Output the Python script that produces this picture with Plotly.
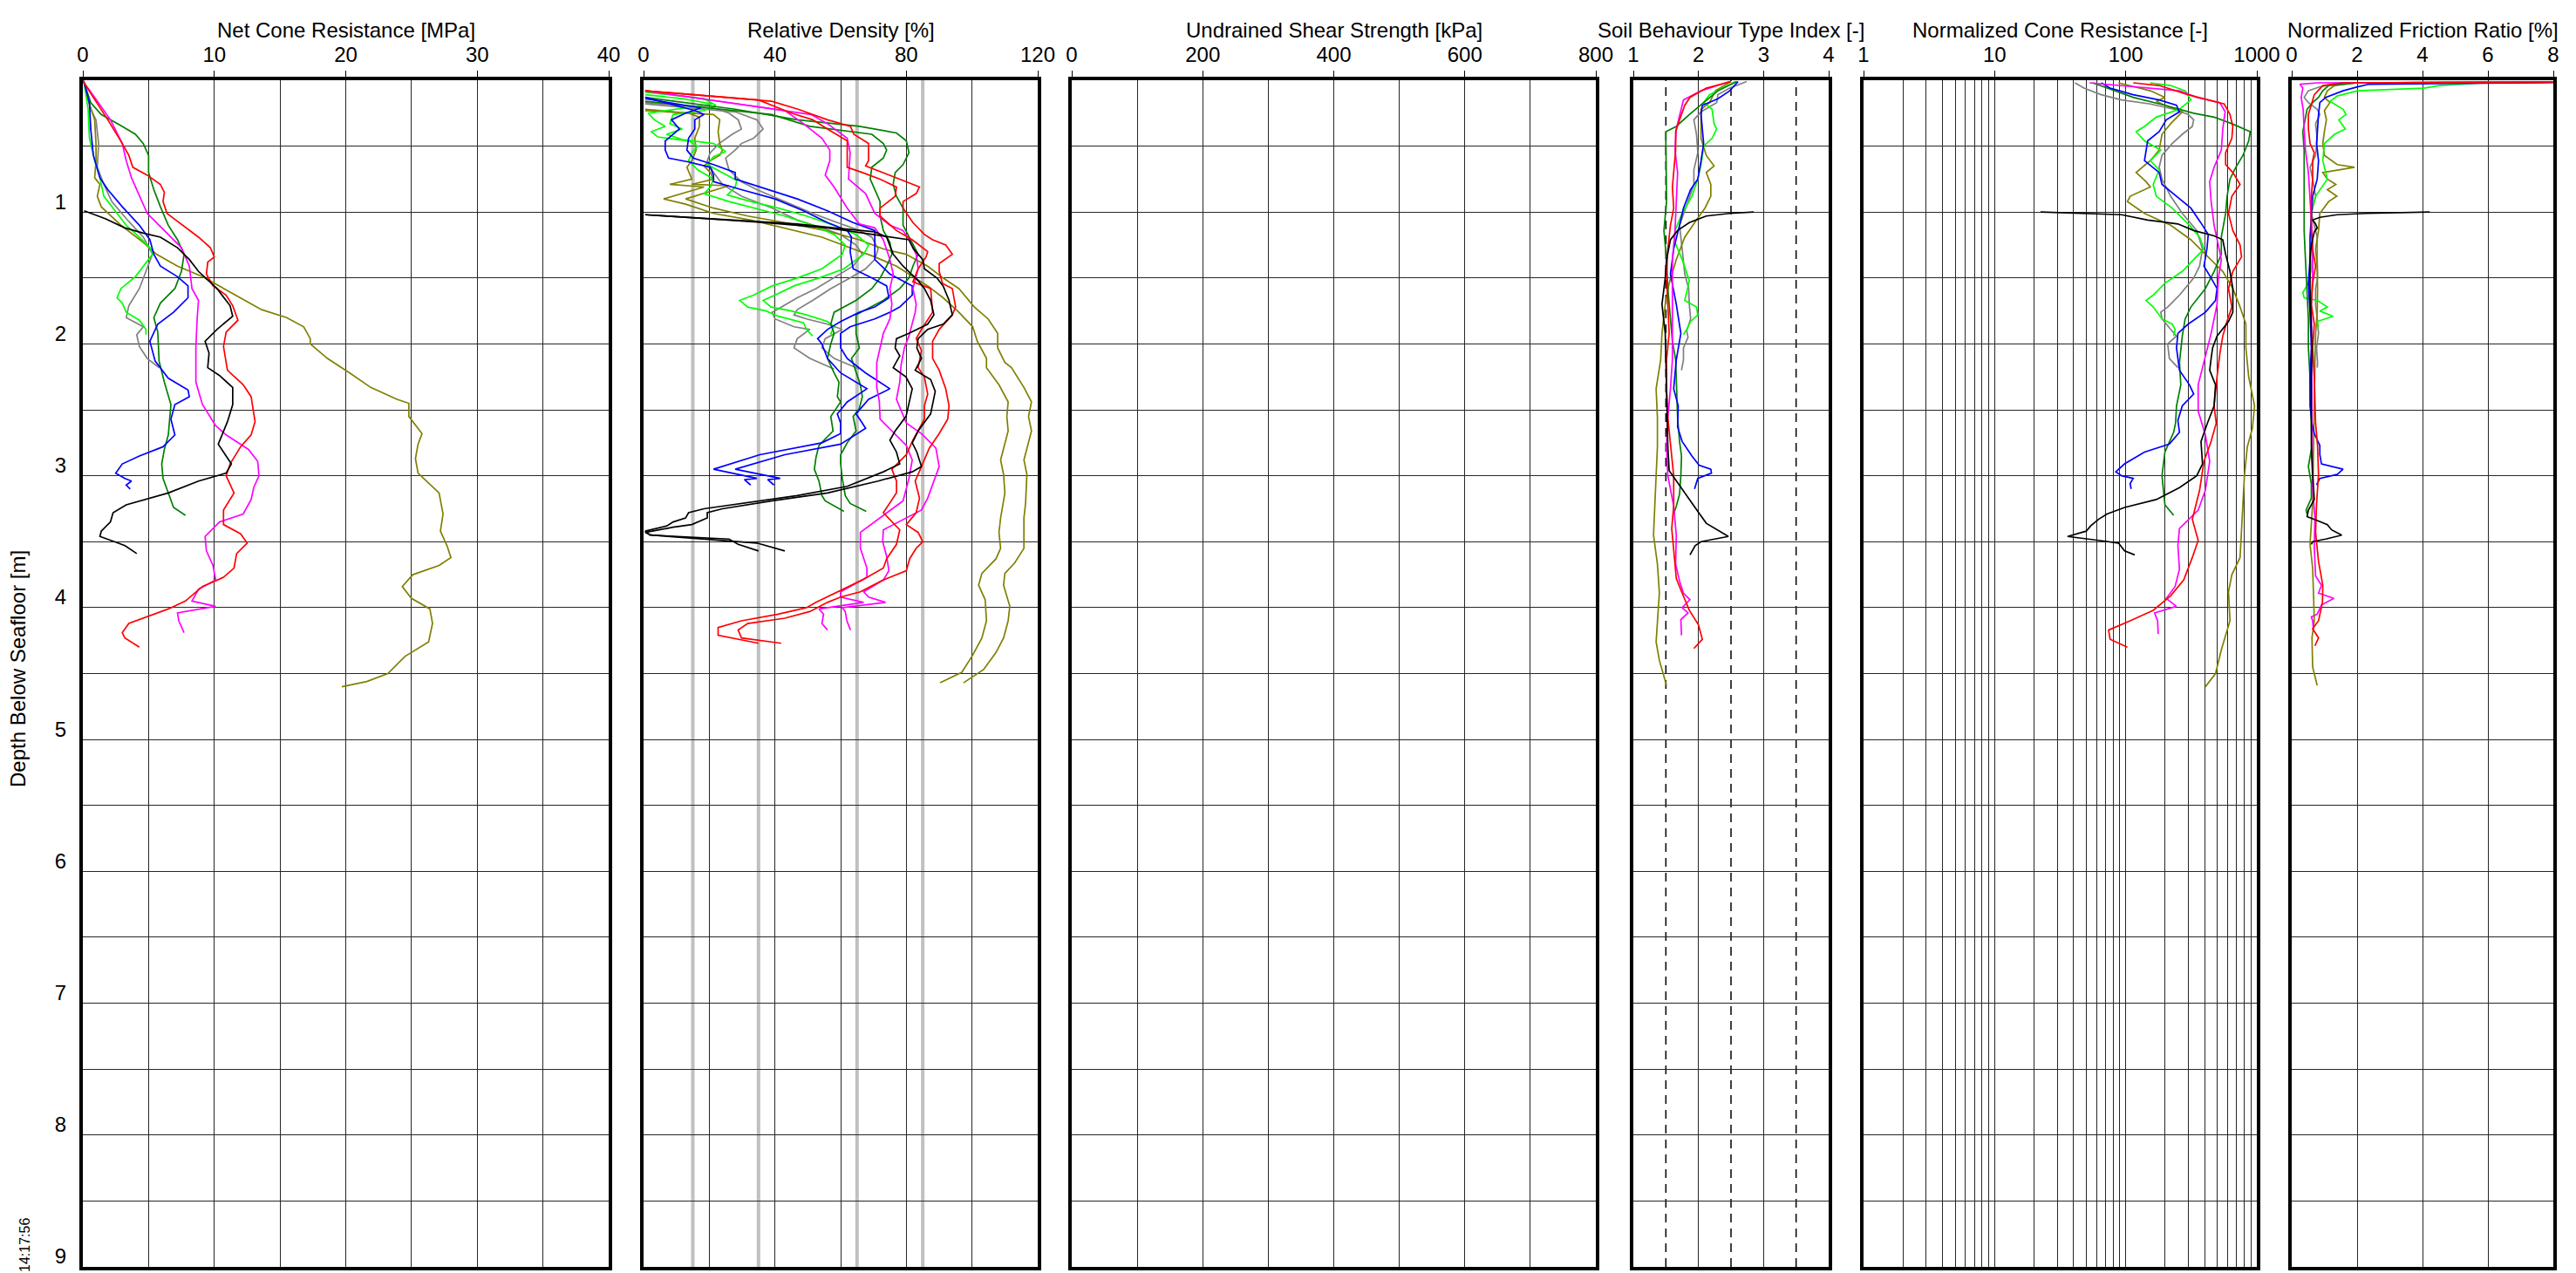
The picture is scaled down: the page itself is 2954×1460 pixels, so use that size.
import plotly.graph_objects as go

# ------------------------------------------------------------------ data
# each series: [depth (m), value]
titles = ["Net Cone Resistance [MPa]", "Relative Density [%]", "Undrained Shear Strength [kPa]",
          "Soil Behaviour Type Index [-]", "Normalized Cone Resistance [-]", "Normalized Friction Ratio [%]"]
depth_ticks = [1, 2, 3, 4, 5, 6, 7, 8, 9]
depth_range = [9, 0]
qnet_ticks = [0, 10, 20, 30, 40]
dr_ticks = [0, 40, 80, 120]
su_ticks = [0, 200, 400, 600, 800]
ic_ticks = [1, 2, 3, 4]
qtn_ticks = [1, 10, 100, 1000]
fr_ticks = [0, 2, 4, 6, 8]
dr_class_lines = [15, 35, 65, 85]
ic_zone_lines = [1.5, 2.5, 3.5]
timestamp = "14:17:56"

qnet_red = [[0,0],[0.02,0.1],[0.1,0.6],[0.3,1.9],[0.48,3.0],[0.57,3.5],[0.66,3.8],[0.72,4.9],[0.79,5.9],[0.85,6.2],[0.92,6.1],[1.01,6.4],[1.07,7.2],[1.19,8.8],[1.27,9.7],[1.34,10.0],[1.38,9.5],[1.47,9.4],[1.56,9.9],[1.63,10.9],[1.71,11.4],[1.82,11.8],[1.91,10.9],[2.02,10.7],[2.20,11.0],[2.31,12.2],[2.40,12.8],[2.51,13.0],[2.59,13.1],[2.69,12.8],[2.78,12.0],[2.91,11.2],[3.0,10.9],[3.13,11.5],[3.26,10.7],[3.37,10.7],[3.44,12.0],[3.51,12.5],[3.59,11.7],[3.70,11.5],[3.77,10.7],[3.84,9.1],[3.95,7.8],[4.01,6.5],[4.12,3.5],[4.19,3.0],[4.23,3.2],[4.30,4.3]]
qnet_magenta = [[0,0],[0.02,0.1],[0.13,0.9],[0.30,2.1],[0.48,3.0],[0.61,3.3],[0.74,3.7],[0.88,4.3],[1.01,4.9],[1.14,6.2],[1.27,7.5],[1.41,8.1],[1.58,8.3],[1.67,8.8],[1.80,8.7],[2.02,8.6],[2.29,8.6],[2.46,9.1],[2.62,10.1],[2.69,10.9],[2.80,12.6],[2.89,13.3],[3.0,13.4],[3.09,13.0],[3.18,12.8],[3.29,12.2],[3.35,10.4],[3.46,9.3],[3.57,9.4],[3.68,9.9],[3.79,10.1],[3.86,8.8],[3.95,8.3],[3.99,10.1],[4.04,7.2],[4.10,7.3],[4.19,7.7]]
qnet_blue = [[0,0],[0.02,0.1],[0.17,0.5],[0.37,0.6],[0.57,0.8],[0.74,1.3],[0.83,1.9],[0.96,3.0],[1.10,4.3],[1.21,5.1],[1.32,5.4],[1.41,5.9],[1.49,7.2],[1.56,8.0],[1.65,8.0],[1.76,6.9],[1.85,5.7],[1.98,5.1],[2.13,5.5],[2.26,6.5],[2.35,8.0],[2.40,8.1],[2.46,7.0],[2.57,6.7],[2.69,7.0],[2.78,6.1],[2.85,4.3],[2.91,3.0],[2.98,2.5],[3.02,3.2],[3.04,3.7],[3.07,3.3],[3.10,3.6]]
qnet_lime = [[0,0],[0.02,0.1],[0.22,0.4],[0.44,0.5],[0.61,0.9],[0.74,1.3],[0.88,1.6],[0.96,2.2],[1.10,3.3],[1.19,4.3],[1.27,5.1],[1.32,5.3],[1.41,4.6],[1.49,4.0],[1.58,2.9],[1.65,2.6],[1.69,3.0],[1.76,3.3],[1.82,4.3],[1.89,4.8],[1.93,4.8]]
qnet_dkgreen = [[0,0],[0.02,0.1],[0.17,0.6],[0.26,1.4],[0.35,3.0],[0.41,4.0],[0.48,4.6],[0.57,5.0],[0.70,5.0],[0.83,5.4],[0.96,5.9],[1.10,6.5],[1.21,7.2],[1.32,7.7],[1.45,7.5],[1.58,7.0],[1.69,5.9],[1.80,5.4],[1.91,5.7],[2.13,5.8],[2.29,6.2],[2.46,6.7],[2.69,6.5],[2.80,6.2],[2.91,6.0],[3.02,6.1],[3.13,6.5],[3.24,6.9],[3.30,7.8]]
qnet_grey = [[0,0],[0.02,0.1],[0.22,0.6],[0.30,1.0],[0.48,1.2],[0.66,1.1],[0.79,1.6],[0.92,2.2],[1.05,3.3],[1.19,4.6],[1.32,5.3],[1.45,4.8],[1.58,4.3],[1.71,3.5],[1.80,3.3],[1.87,4.6],[1.93,4.1],[2.02,4.3],[2.11,4.9],[2.18,5.8]]
qnet_black = [[0.99,0.1],[1.05,1.7],[1.12,3.2],[1.16,4.6],[1.19,5.9],[1.27,7.2],[1.36,8.1],[1.45,8.8],[1.58,10.2],[1.71,11.2],[1.79,11.4],[1.89,10.2],[1.98,9.3],[2.07,9.6],[2.18,9.5],[2.24,10.4],[2.33,11.4],[2.46,11.4],[2.59,11.0],[2.69,10.6],[2.76,10.3],[2.85,10.9],[2.91,11.3],[2.98,10.9],[3.04,8.8],[3.13,6.5],[3.22,3.3],[3.28,2.3],[3.35,2.1],[3.42,1.4],[3.46,1.3],[3.50,2.4],[3.53,3.2],[3.59,4.1]]
qnet_olive = [[0,0],[0.02,0.1],[0.15,0.4],[0.30,0.9],[0.48,1.0],[0.61,1.0],[0.74,0.9],[0.79,1.3],[0.88,1.1],[0.96,1.4],[1.10,2.9],[1.23,4.6],[1.32,5.6],[1.41,7.2],[1.49,9.1],[1.58,10.7],[1.65,12.0],[1.74,13.6],[1.80,15.5],[1.87,16.8],[1.96,17.3],[2.00,17.3],[2.11,18.6],[2.22,20.3],[2.33,21.9],[2.42,23.9],[2.45,24.8],[2.55,24.8],[2.68,25.8],[2.76,25.5],[2.87,25.3],[2.98,25.5],[3.13,27.1],[3.29,27.4],[3.42,27.2],[3.53,27.7],[3.62,28.0],[3.68,27.1],[3.75,25.1],[3.84,24.3],[3.93,25.0],[4.01,26.4],[4.12,26.6],[4.26,26.3],[4.37,24.5],[4.50,23.2],[4.56,21.6],[4.60,19.7]]

dr_red_a = [[0.08,0.5],[0.15,35],[0.25,45],[0.30,51.5],[0.37,56],[0.46,62],[0.57,62],[0.66,62],[0.70,66.6],[0.75,72],[0.81,77],[0.88,76.6],[0.97,72],[1.03,72],[1.14,77],[1.21,81.8],[1.30,86.5],[1.34,86],[1.43,83.6],[1.53,82],[1.58,87.4],[1.76,88],[1.89,84.6],[1.96,83],[2.05,84.6],[2.18,83.6],[2.25,85.5],[2.38,86.5],[2.47,85.5],[2.57,85.5],[2.73,82],[2.84,80],[2.95,75.6],[3.04,77],[3.13,77],[3.28,73],[3.41,78],[3.52,77],[3.63,74],[3.70,73],[3.79,66.6],[3.88,59],[3.96,52.5],[4.00,49.6],[4.05,41],[4.10,29.8],[4.15,22.7],[4.21,22.7],[4.27,35]]
dr_red_b = [[0.08,0.5],[0.16,39],[0.22,47],[0.30,56],[0.35,63],[0.41,64],[0.48,68.5],[0.61,68.5],[0.65,67.6],[0.70,73],[0.76,79],[0.81,84],[0.86,83],[0.92,79],[0.97,79],[1.08,82],[1.17,85.5],[1.21,88],[1.25,92],[1.32,94],[1.39,90],[1.45,90],[1.54,91],[1.58,94],[1.72,95],[1.78,94],[1.89,90],[1.98,88],[2.11,88],[2.20,90],[2.34,92],[2.47,93],[2.57,92.6],[2.68,90],[2.79,87],[2.93,84.6],[3.04,82.7],[3.17,84],[3.28,83],[3.37,80],[3.43,83.6],[3.50,85],[3.55,83],[3.63,81],[3.72,80],[3.79,73],[3.88,66],[3.92,60],[3.96,56],[4.03,50.6],[4.08,43],[4.12,31.7],[4.17,28.8],[4.23,29.8],[4.27,41.9]]
dr_magenta_a = [[0.08,0.5],[0.23,43],[0.33,48.7],[0.44,54.3],[0.53,56.7],[0.61,56.7],[0.72,55.3],[0.81,58],[0.97,62],[1.09,65.7],[1.12,70.4],[1.21,73],[1.36,75],[1.47,76],[1.58,75],[1.70,75.6],[1.81,75],[1.92,73],[2.03,72],[2.14,71],[2.25,71],[2.33,71],[2.44,71.8],[2.57,72],[2.66,75.6],[2.77,80],[2.88,81.8],[3.02,80.8],[3.19,79],[3.30,73],[3.43,66],[3.55,66],[3.70,68],[3.77,68],[3.88,60],[3.92,60],[3.96,67],[4.01,53.4],[4.05,54.8],[4.12,54.3],[4.17,56]]
dr_magenta_b = [[0.08,0.5],[0.26,51],[0.33,56],[0.44,62],[0.55,62.9],[0.75,62.4],[0.86,67.6],[1.01,70.4],[1.10,75],[1.14,79],[1.21,80.8],[1.32,83],[1.43,83.6],[1.58,82],[1.70,83],[1.76,82.7],[1.94,80.8],[2.03,79.4],[2.16,78.4],[2.29,78],[2.42,77],[2.60,80],[2.68,84.6],[2.79,89],[2.93,90],[3.04,88.4],[3.17,86.5],[3.26,84.6],[3.32,80],[3.41,73],[3.50,72.8],[3.61,74],[3.72,74.7],[3.79,73],[3.88,67],[3.92,68.5],[3.96,73.7],[4.00,60.5],[4.03,61.4],[4.10,61.9],[4.17,63]]
dr_blue_a = [[0.14,0.5],[0.21,17.5],[0.25,12.8],[0.30,8.5],[0.37,10.9],[0.46,6.6],[0.53,6.6],[0.59,7.6],[0.62,13.7],[0.66,20.3],[0.72,21.3],[0.77,21.3],[0.83,29.8],[0.90,40],[0.99,48.7],[1.08,56],[1.14,62],[1.19,63.3],[1.30,62.9],[1.43,63.8],[1.50,69.5],[1.56,74],[1.65,74.7],[1.72,70.4],[1.76,65.7],[1.83,60],[1.89,56],[1.96,53],[2.00,54.3],[2.11,56],[2.22,60],[2.34,68],[2.44,62],[2.53,59],[2.60,60],[2.68,60],[2.75,54.3],[2.84,35.4],[2.95,21.3],[3.02,34.5],[3.03,30.7],[3.07,32.6]]
dr_blue_b = [[0.13,0.5],[0.23,15.6],[0.26,18.4],[0.30,15.6],[0.37,15.6],[0.44,13.7],[0.53,13.2],[0.59,15.1],[0.64,21.3],[0.70,27.9],[0.75,27.9],[0.81,35.4],[0.90,46.8],[0.99,56],[1.08,63.8],[1.14,70.4],[1.36,70.4],[1.47,75],[1.56,81.8],[1.63,81.8],[1.72,78],[1.76,75],[1.81,70.4],[1.87,62.9],[1.92,60],[2.03,60],[2.11,62],[2.22,67.6],[2.34,75],[2.42,68.5],[2.53,64.7],[2.60,66.6],[2.64,67.6],[2.76,60],[2.84,43],[2.95,27.9],[3.02,41.6],[3.03,37.8],[3.07,39.7]]
dr_lime_a = [[0.11,0.5],[0.14,11.8],[0.18,21],[0.21,12.8],[0.25,1.4],[0.30,3.3],[0.35,6.6],[0.39,2.4],[0.43,4.3],[0.46,13.7],[0.50,16.5],[0.55,14.7],[0.61,13.7],[0.68,16.5],[0.75,21.3],[0.81,20.3],[0.86,18.4],[0.92,26],[0.97,33.5],[1.03,43],[1.10,51.5],[1.17,58],[1.25,61.4],[1.32,60.5],[1.43,54.3],[1.50,46.8],[1.56,39.2],[1.63,33.5],[1.67,29.3],[1.72,31.7],[1.75,37.3],[1.79,41],[1.84,48.7],[1.89,49.6],[1.94,51.5]]
dr_lime_b = [[0.09,0.5],[0.14,18.4],[0.19,22],[0.23,18.4],[0.26,9],[0.33,8],[0.37,11.8],[0.41,7],[0.45,11.8],[0.48,21.3],[0.54,25],[0.58,21.3],[0.64,19.4],[0.70,24],[0.76,28.4],[0.81,27.9],[0.87,25.5],[0.92,32.6],[0.97,41],[1.03,49.6],[1.10,58],[1.17,64.7],[1.25,68.5],[1.32,67],[1.43,61],[1.50,53.4],[1.56,45.8],[1.63,40],[1.67,36.4],[1.72,38.8],[1.75,44.9],[1.78,49.6],[1.83,56],[1.87,58],[1.92,57],[1.94,58]]
dr_dkgreen_a = [[0.16,0.5],[0.26,39],[0.35,50.6],[0.39,63.8],[0.41,69.5],[0.48,73],[0.53,74],[0.59,73],[0.66,69.5],[0.75,69],[0.83,70.4],[0.92,72],[1.03,72],[1.14,73],[1.23,75],[1.32,75.6],[1.41,74],[1.50,72],[1.58,69.5],[1.67,64.7],[1.76,58],[1.85,57],[1.92,58],[2.00,57],[2.11,56],[2.22,58],[2.29,59.5],[2.40,59],[2.44,60],[2.55,57],[2.66,57.7],[2.77,53.4],[2.86,52.5],[2.95,52],[3.04,53.4],[3.15,54.3],[3.19,55.3],[3.27,61]]
dr_dkgreen_b = [[0.13,0.5],[0.22,27.9],[0.30,46.8],[0.35,65.7],[0.40,77],[0.46,80],[0.55,80.8],[0.64,79],[0.70,76.6],[0.79,76],[0.88,77],[0.97,79],[1.10,79],[1.19,80.8],[1.28,82.7],[1.32,83.6],[1.41,82],[1.50,80.8],[1.58,78],[1.67,73],[1.74,67.6],[1.78,64.7],[1.92,64.7],[2.03,65.7],[2.11,63.3],[2.22,64.7],[2.31,66],[2.40,66.6],[2.49,65.7],[2.55,63.8],[2.66,64.7],[2.75,62],[2.84,60],[2.91,60],[3.02,60.5],[3.15,61.4],[3.21,62.9],[3.27,67.8]]
dr_grey_a = [[0.17,0.5],[0.21,21.3],[0.25,26],[0.30,28.8],[0.37,29.8],[0.41,27],[0.48,23],[0.55,20.3],[0.61,19.4],[0.70,21.3],[0.79,24],[0.88,29.8],[0.97,39.2],[1.06,46.8],[1.12,54.3],[1.17,60],[1.25,64.7],[1.32,66.6],[1.41,63.8],[1.50,58],[1.58,52.5],[1.65,46.8],[1.72,42],[1.76,39.2],[1.81,40],[1.87,45.8],[1.89,50.6],[1.96,46.8],[2.03,45.8],[2.11,50.6],[2.19,58]]
dr_grey_b = [[0.18,0.5],[0.24,27.9],[0.30,34.5],[0.37,36.4],[0.44,33.5],[0.48,29.8],[0.53,27.9],[0.59,25],[0.68,26],[0.77,29.8],[0.83,34.5],[0.92,43],[1.01,51.5],[1.08,59],[1.14,65.7],[1.19,69.5],[1.28,71.4],[1.36,70.4],[1.43,67.6],[1.50,62.9],[1.58,57],[1.67,51.5],[1.74,46.8],[1.78,45.8],[1.81,49.6],[1.85,56],[1.89,60.5],[1.96,55.3],[2.03,54.3],[2.11,58],[2.19,65.7]]
dr_black_a = [[1.02,0.5],[1.06,27.9],[1.09,46.8],[1.12,58],[1.15,70.4],[1.19,74],[1.25,75],[1.32,76],[1.41,79],[1.52,83.6],[1.58,85.5],[1.67,87.4],[1.78,88.4],[1.85,86.5],[1.92,80.8],[1.96,77],[2.03,76.6],[2.09,78],[2.18,76],[2.25,79.9],[2.34,81.8],[2.55,79.9],[2.66,76.6],[2.73,75],[2.82,77],[2.91,78],[2.97,73],[3.08,62],[3.15,46.8],[3.20,32.6],[3.25,18.4],[3.28,13.7],[3.32,12.8],[3.35,9],[3.38,7.1],[3.42,0.5],[3.45,1.9],[3.48,26],[3.52,28.8],[3.57,35]]
dr_black_b = [[1.02,0.5],[1.08,37.3],[1.12,56],[1.18,73],[1.21,80.8],[1.28,82.2],[1.36,85],[1.43,85.5],[1.50,89.3],[1.56,91.2],[1.67,93],[1.78,94],[1.85,91.2],[1.89,86.5],[1.96,83.6],[2.03,83.2],[2.11,84.6],[2.20,82.7],[2.27,87.4],[2.36,88.8],[2.53,87.4],[2.66,83.6],[2.75,81.8],[2.82,83.2],[2.93,84.6],[2.97,81.8],[3.04,71.4],[3.13,56],[3.19,39.2],[3.25,24],[3.28,19.4],[3.32,19.4],[3.37,14.7],[3.39,9],[3.43,0.5],[3.45,2.4],[3.51,34.5],[3.57,43]]
dr_olive_a = [[0.22,0.5],[0.25,13.7],[0.28,17],[0.35,17],[0.44,15.6],[0.53,16],[0.61,14.7],[0.66,13.2],[0.75,14.7],[0.79,8],[0.81,18.4],[0.86,11.8],[0.90,6.1],[0.94,12.8],[1.01,21.3],[1.06,32.6],[1.12,43],[1.19,54.3],[1.28,63.8],[1.34,70.4],[1.41,77],[1.50,82.7],[1.56,86.5],[1.65,91.2],[1.76,96],[1.87,100.2],[1.98,101.6],[2.11,104.4],[2.18,104.4],[2.31,108.2],[2.44,111],[2.55,110.6],[2.66,111],[2.88,108.7],[2.99,109.6],[3.13,110],[3.32,108.7],[3.43,108.2],[3.55,108.7],[3.63,107.3],[3.74,103],[3.83,102],[3.94,104],[4.10,104.4],[4.23,103],[4.36,100.2],[4.49,96.9],[4.57,90.3]]
dr_olive_b = [[0.23,0.5],[0.26,21.3],[0.30,23.2],[0.39,22.7],[0.48,23.2],[0.53,24],[0.57,23.2],[0.61,20.3],[0.65,18.4],[0.70,20.3],[0.75,21.3],[0.79,14.7],[0.80,26],[0.86,18.4],[0.90,12.8],[0.97,21.3],[1.03,31.7],[1.08,43],[1.14,55.3],[1.21,65.7],[1.28,73],[1.32,79.9],[1.41,86.5],[1.50,91.2],[1.58,96],[1.72,100.7],[1.81,104.9],[1.92,107.8],[2.03,107.8],[2.14,110],[2.18,112],[2.33,115.8],[2.44,118.1],[2.55,117.2],[2.66,118.1],[2.88,115.8],[2.99,116.7],[3.21,116.3],[3.32,115.8],[3.55,115.8],[3.66,113],[3.74,110],[3.83,109.6],[3.99,111.5],[4.10,111],[4.23,109.6],[4.34,107.3],[4.47,103.5],[4.57,97.4]]

ic_red = [[0.01,2.50],[0.06,2.12],[0.13,1.87],[0.19,1.79],[0.30,1.71],[0.39,1.65],[0.53,1.65],[0.68,1.62],[0.81,1.60],[0.97,1.62],[1.10,1.57],[1.28,1.53],[1.47,1.51],[1.70,1.53],[1.92,1.55],[2.12,1.51],[2.34,1.51],[2.56,1.53],[2.78,1.57],[3.00,1.62],[3.23,1.62],[3.40,1.59],[3.56,1.62],[3.78,1.66],[3.89,1.75],[4.02,1.86],[4.13,2.00],[4.24,2.06],[4.31,1.93]]
ic_magenta = [[0.01,2.48],[0.08,2.04],[0.15,1.77],[0.26,1.71],[0.37,1.66],[0.53,1.64],[0.70,1.68],[0.92,1.66],[1.14,1.64],[1.36,1.60],[1.58,1.60],[1.81,1.60],[1.98,1.60],[2.12,1.60],[2.34,1.57],[2.56,1.53],[2.78,1.51],[3.00,1.53],[3.23,1.62],[3.45,1.66],[3.67,1.65],[3.80,1.71],[3.89,1.77],[3.94,1.87],[4.00,1.75],[4.04,1.84],[4.09,1.73],[4.21,1.74]]
ic_blue = [[0.01,2.61],[0.08,2.48],[0.14,2.30],[0.19,2.06],[0.26,2.04],[0.39,2.06],[0.48,2.08],[0.61,2.04],[0.75,1.99],[0.83,1.88],[0.97,1.77],[1.10,1.71],[1.28,1.62],[1.47,1.57],[1.70,1.66],[1.92,1.73],[2.12,1.66],[2.34,1.62],[2.47,1.69],[2.63,1.68],[2.74,1.75],[2.85,1.90],[2.92,2.01],[2.95,2.19],[2.98,2.20],[3.02,1.99],[3.05,1.97],[3.10,1.94]]
ic_lime = [[0.01,2.57],[0.11,2.17],[0.17,2.08],[0.22,2.21],[0.33,2.24],[0.37,2.28],[0.44,2.21],[0.50,2.08],[0.64,2.04],[0.75,1.99],[0.88,1.90],[1.01,1.75],[1.14,1.64],[1.23,1.64],[1.36,1.75],[1.52,1.86],[1.67,1.79],[1.72,1.97],[1.78,1.99],[1.83,1.88],[1.89,1.82],[1.93,1.77]]
ic_dkgreen = [[0.01,2.59],[0.08,2.30],[0.17,2.08],[0.26,1.86],[0.35,1.66],[0.39,1.50],[0.48,1.50],[0.70,1.51],[0.92,1.51],[1.14,1.47],[1.36,1.51],[1.58,1.53],[1.81,1.57],[1.98,1.60],[2.12,1.65],[2.34,1.66],[2.56,1.68],[2.74,1.71],[2.85,1.74],[3.00,1.73],[3.14,1.71],[3.23,1.66],[3.29,1.62]]
ic_grey = [[0.01,2.74],[0.06,2.48],[0.11,2.30],[0.17,2.28],[0.24,2.04],[0.30,1.93],[0.41,1.97],[0.55,1.99],[0.68,1.93],[0.79,1.93],[0.92,1.84],[1.10,1.71],[1.28,1.75],[1.47,1.79],[1.58,1.85],[1.70,1.86],[1.81,1.88],[1.90,1.82],[1.95,1.84],[2.03,1.77],[2.12,1.77],[2.20,1.74]]
ic_black = [[1.00,2.85],[1.01,2.48],[1.03,2.12],[1.08,1.86],[1.14,1.68],[1.21,1.57],[1.36,1.51],[1.50,1.49],[1.70,1.44],[1.92,1.49],[2.12,1.50],[2.34,1.51],[2.56,1.53],[2.78,1.53],[2.96,1.55],[3.09,1.73],[3.18,1.86],[3.27,1.99],[3.36,2.12],[3.40,2.26],[3.46,2.46],[3.50,2.04],[3.53,1.95],[3.60,1.87]]
ic_olive = [[0.01,2.50],[0.08,2.26],[0.17,2.17],[0.22,2.04],[0.30,2.04],[0.44,2.04],[0.57,2.12],[0.65,2.24],[0.70,2.12],[0.79,2.19],[0.88,2.19],[0.97,2.10],[1.06,1.97],[1.19,1.79],[1.36,1.66],[1.54,1.55],[1.70,1.49],[1.92,1.44],[2.12,1.42],[2.34,1.35],[2.56,1.37],[2.78,1.37],[3.00,1.35],[3.23,1.33],[3.45,1.31],[3.67,1.37],[3.89,1.40],[4.11,1.37],[4.26,1.35],[4.40,1.40],[4.59,1.51]]

qtn_red = [[0.02,114],[0.04,180],[0.11,299],[0.16,472],[0.18,564],[0.26,624],[0.35,656],[0.44,645],[0.55,578],[0.64,578],[0.70,656],[0.79,745],[0.88,645],[1.01,608],[1.14,656],[1.25,745],[1.34,764],[1.45,656],[1.58,608],[1.72,645],[1.83,592],[1.94,550],[2.07,523],[2.25,497],[2.47,472],[2.60,490],[2.74,448],[2.89,395],[3.11,366],[3.33,322],[3.49,357],[3.62,322],[3.79,277],[3.91,220],[4.02,162],[4.10,108],[4.17,74],[4.24,76],[4.30,103]]
qtn_magenta = [[0.02,53],[0.04,93],[0.08,257],[0.13,348],[0.17,523],[0.24,573],[0.37,550],[0.53,536],[0.66,472],[0.77,437],[0.92,448],[1.10,472],[1.25,509],[1.36,536],[1.50,509],[1.70,497],[1.92,448],[2.14,395],[2.31,357],[2.51,357],[2.69,405],[2.89,437],[3.11,405],[3.26,357],[3.40,257],[3.53,250],[3.71,257],[3.84,238],[3.93,204],[3.99,243],[4.04,166],[4.10,175],[4.20,177]]
qtn_blue = [[0.02,65],[0.06,76],[0.11,114],[0.15,180],[0.19,244],[0.24,257],[0.30,204],[0.39,180],[0.46,147],[0.53,143],[0.61,139],[0.70,180],[0.79,189],[0.88,244],[0.97,314],[1.10,385],[1.17,426],[1.28,416],[1.41,395],[1.50,448],[1.58,497],[1.67,484],[1.76,405],[1.85,299],[1.92,250],[2.03,244],[2.20,257],[2.31,306],[2.38,330],[2.47,270],[2.58,250],[2.67,257],[2.76,215],[2.82,139],[2.91,98],[2.97,84],[3.00,93],[3.02,114],[3.06,108],[3.10,110]]
qtn_lime = [[0.02,154],[0.04,220],[0.08,284],[0.15,314],[0.22,257],[0.28,171],[0.35,139],[0.39,120],[0.46,139],[0.53,185],[0.61,154],[0.68,180],[0.79,162],[0.88,171],[0.97,226],[1.10,306],[1.19,366],[1.28,395],[1.36,330],[1.45,270],[1.54,199],[1.63,162],[1.67,143],[1.72,162],[1.81,189],[1.85,226],[1.89,238],[1.94,232]]
qtn_dkgreen = [[0.02,56],[0.06,72],[0.13,114],[0.19,199],[0.25,330],[0.28,472],[0.33,645],[0.39,890],[0.46,867],[0.57,784],[0.66,691],[0.75,624],[0.88,593],[1.01,578],[1.19,536],[1.32,536],[1.45,472],[1.58,405],[1.72,314],[1.81,284],[1.94,270],[2.14,257],[2.31,263],[2.47,244],[2.60,240],[2.67,232],[2.82,199],[3.00,189],[3.13,194],[3.22,199],[3.30,232]]
qtn_grey = [[0.02,41],[0.06,48],[0.11,65],[0.15,93],[0.18,154],[0.22,232],[0.26,299],[0.30,330],[0.35,322],[0.41,270],[0.48,226],[0.57,189],[0.66,180],[0.75,189],[0.88,220],[1.01,270],[1.14,348],[1.28,385],[1.41,366],[1.50,330],[1.63,257],[1.72,209],[1.76,185],[1.81,189],[1.89,220],[1.94,244],[2.00,209],[2.11,215],[2.18,250]]
qtn_black = [[1.00,22.4],[1.01,43],[1.02,93],[1.06,147],[1.09,250],[1.14,330],[1.18,472],[1.21,550],[1.32,578],[1.45,624],[1.58,656],[1.76,656],[1.83,608],[1.94,497],[2.03,460],[2.11,448],[2.20,437],[2.31,484],[2.47,472],[2.60,420],[2.74,375],[2.91,385],[3.00,348],[3.09,257],[3.18,171],[3.24,98],[3.29,72],[3.33,62],[3.38,54],[3.42,50],[3.46,36],[3.49,62],[3.51,88],[3.57,98],[3.60,117]]
qtn_olive = [[0.02,88],[0.08,154],[0.13,199],[0.16,171],[0.19,199],[0.24,270],[0.33,220],[0.41,189],[0.53,180],[0.61,154],[0.70,120],[0.77,143],[0.81,154],[0.88,108],[0.92,103],[1.01,139],[1.10,220],[1.21,314],[1.32,405],[1.45,550],[1.58,656],[1.72,745],[1.85,825],[2.03,825],[2.25,867],[2.47,961],[2.64,925],[2.78,846],[3.00,804],[3.22,784],[3.44,764],[3.62,745],[3.75,645],[3.88,608],[4.10,624],[4.32,536],[4.50,484],[4.60,405]]

fr_red = [[0.012,10],[0.02,1.57],[0.04,0.95],[0.11,0.69],[0.17,0.62],[0.26,0.51],[0.37,0.51],[0.48,0.56],[0.55,0.69],[0.61,0.64],[0.75,0.64],[0.88,0.60],[1.01,0.60],[1.14,0.60],[1.28,0.64],[1.41,0.73],[1.54,0.64],[1.70,0.60],[1.85,0.69],[2.03,0.64],[2.25,0.69],[2.47,0.71],[2.60,0.73],[2.77,0.79],[2.99,0.82],[3.21,0.76],[3.43,0.73],[3.65,0.82],[3.83,0.95],[3.96,0.94],[4.10,0.82],[4.16,0.64],[4.23,0.82],[4.29,0.71]]
fr_magenta = [[0.012,10],[0.02,0.78],[0.03,0.25],[0.06,0.34],[0.13,0.29],[0.22,0.35],[0.37,0.38],[0.53,0.42],[0.70,0.51],[0.88,0.56],[1.06,0.60],[1.25,0.64],[1.47,0.64],[1.70,0.60],[1.92,0.60],[2.25,0.60],[2.58,0.62],[2.77,0.62],[3.10,0.64],[3.32,0.71],[3.54,0.69],[3.76,0.73],[3.83,0.91],[3.89,0.82],[3.93,1.29],[3.98,0.91],[4.05,0.78],[4.07,0.60],[4.10,0.64],[4.18,0.67]]
fr_blue = [[0.012,10],[0.03,2.37],[0.05,2.01],[0.08,1.57],[0.13,1.04],[0.17,0.86],[0.26,0.82],[0.37,0.78],[0.48,0.76],[0.61,0.82],[0.75,0.78],[0.88,0.64],[1.01,0.60],[1.19,0.56],[1.36,0.56],[1.54,0.51],[1.76,0.56],[2.03,0.60],[2.25,0.56],[2.47,0.56],[2.60,0.62],[2.68,0.69],[2.77,0.86],[2.84,0.86],[2.91,0.91],[2.95,1.57],[2.99,1.39],[3.02,0.86],[3.07,0.76]]
fr_lime = [[0.008,12],[0.02,5.9],[0.04,4.53],[0.06,4.04],[0.08,2.01],[0.12,1.39],[0.16,1.17],[0.22,1.57],[0.26,1.66],[0.30,1.44],[0.37,1.64],[0.41,1.31],[0.48,1.00],[0.61,0.95],[0.75,1.09],[0.88,0.73],[1.01,0.60],[1.14,0.60],[1.28,0.64],[1.43,0.60],[1.54,0.51],[1.61,0.34],[1.65,0.38],[1.67,0.78],[1.72,1.09],[1.75,0.86],[1.79,1.26],[1.83,0.78],[1.87,0.82]]
fr_dkgreen = [[0.012,10],[0.02,2.0],[0.04,1.13],[0.08,0.95],[0.13,0.82],[0.17,0.64],[0.22,0.47],[0.30,0.41],[0.39,0.34],[0.53,0.38],[0.70,0.38],[0.92,0.38],[1.14,0.38],[1.36,0.42],[1.58,0.47],[1.81,0.51],[2.03,0.51],[2.25,0.56],[2.58,0.60],[2.77,0.62],[2.93,0.51],[3.06,0.60],[3.17,0.60],[3.26,0.44],[3.29,0.47]]
fr_grey = [[0.012,10],[0.02,1.48],[0.05,0.86],[0.08,0.51],[0.13,0.38],[0.17,0.51],[0.22,0.78],[0.26,0.86],[0.33,0.73],[0.44,0.78],[0.57,0.73],[0.66,0.56],[0.75,0.64],[0.88,0.73],[1.01,0.60],[1.19,0.78],[1.36,0.78],[1.50,0.79],[1.58,0.73],[1.70,0.73],[1.81,0.78],[1.92,0.82],[2.03,0.76],[2.14,0.79],[2.18,0.78]]
fr_black = [[1.00,4.22],[1.01,2.28],[1.02,1.39],[1.04,0.86],[1.06,0.64],[1.09,0.73],[1.12,0.78],[1.15,0.69],[1.25,0.60],[1.36,0.56],[1.58,0.56],[1.81,0.60],[2.03,0.62],[2.25,0.60],[2.47,0.60],[2.77,0.60],[2.99,0.64],[3.18,0.69],[3.26,0.51],[3.31,0.47],[3.34,0.78],[3.37,1.09],[3.41,1.22],[3.45,1.53],[3.48,1.04],[3.50,0.64],[3.52,0.60]]
fr_olive = [[0.012,10],[0.02,2.01],[0.04,1.31],[0.08,1.09],[0.13,1.00],[0.17,1.17],[0.23,1.00],[0.30,1.06],[0.39,1.00],[0.48,0.95],[0.57,1.00],[0.64,1.39],[0.66,1.92],[0.70,0.95],[0.75,1.09],[0.79,1.35],[0.83,1.09],[0.88,1.38],[0.92,1.13],[1.01,0.86],[1.14,0.82],[1.28,0.73],[1.41,0.78],[1.58,0.79],[1.76,0.78],[1.92,0.73],[2.14,0.71],[2.47,0.69],[2.99,0.64],[3.21,0.64],[3.52,0.56],[3.70,0.64],[3.92,0.67],[4.10,0.69],[4.23,0.62],[4.45,0.64],[4.59,0.78]]

colors = {"red": "#ff0000", "magenta": "#ff00ff", "blue": "#0000ff", "lime": "#00ff00",
          "dkgreen": "#008000", "grey": "#808080", "black": "#000000", "olive": "#808000"}

panel_series = {
    1: [(qnet_grey, "grey"), (qnet_olive, "olive"), (qnet_lime, "lime"), (qnet_dkgreen, "dkgreen"),
        (qnet_blue, "blue"), (qnet_magenta, "magenta"), (qnet_red, "red"), (qnet_black, "black")],
    2: [(dr_grey_a, "grey"), (dr_grey_b, "grey"), (dr_olive_a, "olive"), (dr_olive_b, "olive"),
        (dr_lime_a, "lime"), (dr_lime_b, "lime"), (dr_dkgreen_a, "dkgreen"), (dr_dkgreen_b, "dkgreen"),
        (dr_blue_a, "blue"), (dr_blue_b, "blue"), (dr_magenta_a, "magenta"), (dr_magenta_b, "magenta"),
        (dr_red_a, "red"), (dr_red_b, "red"), (dr_black_a, "black"), (dr_black_b, "black")],
    3: [],
    4: [(ic_grey, "grey"), (ic_olive, "olive"), (ic_lime, "lime"), (ic_dkgreen, "dkgreen"),
        (ic_blue, "blue"), (ic_magenta, "magenta"), (ic_red, "red"), (ic_black, "black")],
    5: [(qtn_grey, "grey"), (qtn_olive, "olive"), (qtn_lime, "lime"), (qtn_dkgreen, "dkgreen"),
        (qtn_blue, "blue"), (qtn_magenta, "magenta"), (qtn_red, "red"), (qtn_black, "black")],
    6: [(fr_grey, "grey"), (fr_olive, "olive"), (fr_lime, "lime"), (fr_dkgreen, "dkgreen"),
        (fr_blue, "blue"), (fr_magenta, "magenta"), (fr_red, "red"), (fr_black, "black")],
}

# ------------------------------------------------------------------ layout geometry (pixels)
W, H = 2954, 1460
panel_px = [(95, 698), (738, 1190), (1229, 1830), (1873, 2097), (2137, 2588), (2628, 2928)]
y_top_px, y_bot_px = 92, 1453
FONT = "Liberation Sans, Arial, sans-serif"
GRID = "#262626"

fig = go.Figure()

for n in range(1, 7):
    xa = "x" if n == 1 else f"x{n}"
    ya = "y" if n == 1 else f"y{n}"
    series = panel_series[n]
    if not series:
        fig.add_trace(go.Scatter(x=[], y=[], xaxis=xa, yaxis=ya, showlegend=False))
    for s, c in series:
        fig.add_trace(go.Scatter(
            x=[p[1] for p in s], y=[p[0] for p in s], mode="lines",
            line=dict(color=colors[c], width=1.7), xaxis=xa, yaxis=ya,
            showlegend=False, hoverinfo="skip"))

x_specs = {
    1: dict(range=[0, 40], tickvals=qnet_ticks, minor=dict(dtick=5, tick0=0, showgrid=True, gridcolor=GRID, gridwidth=1)),
    2: dict(range=[0, 120], tickvals=dr_ticks, minor=dict(dtick=20, tick0=0, showgrid=True, gridcolor=GRID, gridwidth=1)),
    3: dict(range=[0, 800], tickvals=su_ticks, minor=dict(dtick=100, tick0=0, showgrid=True, gridcolor=GRID, gridwidth=1)),
    4: dict(range=[1, 4], tickvals=ic_ticks),
    5: dict(type="log", range=[0, 3], tickvals=qtn_ticks, ticktext=[str(v) for v in qtn_ticks],
            minor=dict(dtick="D1", showgrid=True, gridcolor=GRID, gridwidth=1)),
    6: dict(range=[0, 8], tickvals=fr_ticks),
}

yd = [1 - y_bot_px / H, 1 - y_top_px / H]
layout = dict(width=W, height=H, margin=dict(l=0, r=0, t=0, b=0, pad=0, autoexpand=False), autosize=False,
              paper_bgcolor="white", plot_bgcolor="white", showlegend=False, template="none",
              font=dict(family=FONT, size=24, color="black"))

annotations = []
shapes = []
for n in range(1, 7):
    x0, x1 = panel_px[n - 1]
    dom = [x0 / W, x1 / W]
    key_x = "xaxis" if n == 1 else f"xaxis{n}"
    key_y = "yaxis" if n == 1 else f"yaxis{n}"
    ax = dict(domain=dom, anchor="y" if n == 1 else f"y{n}", side="top", automargin=False,
              showline=True, mirror=True, linewidth=4, linecolor="black",
              ticks="outside", ticklen=7, tickwidth=1, tickcolor="black",
              showgrid=True, gridcolor=GRID, gridwidth=1, zeroline=False,
              tickfont=dict(family=FONT, size=24, color="black"), ticklabelstandoff=0,
              fixedrange=True)
    ax.update(x_specs[n])
    layout[key_x] = ax
    ay = dict(domain=yd, anchor="x" if n == 1 else f"x{n}", range=depth_range, automargin=False,
              tickvals=depth_ticks, showline=True, mirror=True, linewidth=4, linecolor="black",
              ticks="", showgrid=True, gridcolor=GRID, gridwidth=1, zeroline=False,
              minor=dict(dtick=0.5, tick0=0, showgrid=True, gridcolor=GRID, gridwidth=1),
              showticklabels=(n == 1), tickfont=dict(family=FONT, size=24, color="black"),
              fixedrange=True)
    if n == 1:
        ay.update(ticklabelstandoff=10, ticklabelshift=12)
    else:
        ay["matches"] = "y"
    layout[key_y] = ay
    annotations.append(dict(text=titles[n - 1], x=(x0 + x1) / 2 / W, y=1 - 35 / H,
                            xref="paper", yref="paper", showarrow=False,
                            xanchor="center", yanchor="middle",
                            font=dict(family=FONT, size=24, color="black")))

for v in dr_class_lines:
    shapes.append(dict(type="line", xref="x2", yref="y2 domain", x0=v, x1=v, y0=0, y1=1,
                       line=dict(color="#c0c0c0", width=4), layer="below"))
for v in ic_zone_lines:
    shapes.append(dict(type="line", xref="x4", yref="y4 domain", x0=v, x1=v, y0=0, y1=1,
                       line=dict(color="black", width=1.5, dash="10px,7px"), layer="below"))

annotations.append(dict(text="Depth Below Seafloor [m]", textangle=-90, x=20 / W, y=1 - 767 / H,
                        xref="paper", yref="paper", showarrow=False, xanchor="center", yanchor="middle",
                        font=dict(family=FONT, size=24, color="black")))
annotations.append(dict(text=timestamp, textangle=-90, x=28 / W, y=1 - 1428 / H,
                        xref="paper", yref="paper", showarrow=False, xanchor="center", yanchor="middle",
                        font=dict(family=FONT, size=16, color="black")))

layout["annotations"] = annotations
layout["shapes"] = shapes
fig.update_layout(**layout)
fig.write_html("out.html", config={"displayModeBar": False},
               post_script="document.body.style.margin='0px';document.body.style.overflow='hidden';")
